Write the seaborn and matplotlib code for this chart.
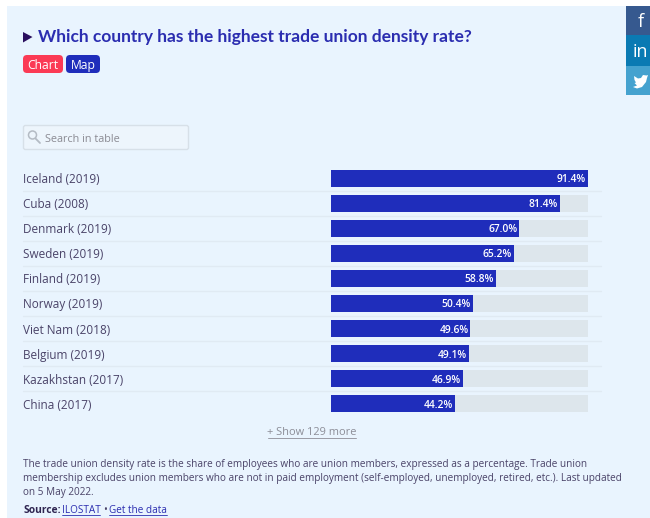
import matplotlib
matplotlib.use("Agg")
import matplotlib.pyplot as plt
from matplotlib.patches import FancyBboxPatch, Rectangle, Polygon, Circle
import pandas as pd
import seaborn as sns

countries = ["Iceland (2019)", "Cuba (2008)", "Denmark (2019)", "Sweden (2019)", "Finland (2019)",
             "Norway (2019)", "Viet Nam (2018)", "Belgium (2019)", "Kazakhstan (2017)", "China (2017)"]
density = [91.4, 81.4, 67.0, 65.2, 58.8, 50.4, 49.6, 49.1, 46.9, 44.2]

PANEL = "#E9F4FE"
BLUE = "#1F2DBB"
TRACK = "#DDE6EC"
LABEL = "#4A4368"
W, H = 650, 518

sns.set_theme(style="white")
plt.rcParams["font.family"] = ["Open Sans", "DejaVu Sans"]

fig = plt.figure(figsize=(W / 100, H / 100), dpi=100, facecolor="white")

# Page furniture is laid out in pixel coordinates on a full-figure layer
bg = fig.add_axes([0, 0, 1, 1])
bg.set_xlim(0, W)
bg.set_ylim(H, 0)
bg.axis("off")
bg.add_patch(Rectangle((7, 6), W - 7, H - 6, fc=PANEL, ec="none"))


def button(x, y, w, h, color, text):
    bg.add_patch(FancyBboxPatch((x + 3, y + 3), w - 6, h - 6, boxstyle="round,pad=3,rounding_size=4",
                                fc=color, ec="none"))
    bg.text(x + w / 2, y + h / 2 + 1.2, text, color="white", fontsize=8.7, ha="center", va="center")


bg.add_patch(Polygon([(23, 32), (32.5, 37), (23, 42.5)], fc="#2A0F5E", ec="none"))
bg.text(38, 36.8, "Which country has the highest trade union density rate?", color="#2B2DB0",
        fontsize=12.55, fontweight="bold", va="center", family="Lato")
button(23, 55, 40, 18, "#FB3A55", "Chart")
button(66, 55, 34, 18, BLUE, "Map")

# Search box with magnifier
bg.add_patch(FancyBboxPatch((24, 126), 164, 23, boxstyle="round,pad=0.5,rounding_size=2",
                            fc="#EDF5FC", ec="#D7E0E8", lw=1))
bg.add_patch(Circle((32.5, 135), 4, fc="none", ec="#B4BBC4", lw=1.1))
bg.plot([35.5, 40], [138.5, 143], color="#B4BBC4", lw=1.3)
bg.text(45, 139, "Search in table", color="#8B8B93", fontsize=7.8, va="center")

# Share buttons
share = [(6, 29, "#36598F"), (35, 31, "#0A7AB3"), (66, 29, "#45A2CF")]
for y, h, color in share:
    bg.add_patch(Rectangle((626, y), 24, h, fc=color, ec="none"))
bg.text(640.5, 22, "f", color="white", fontsize=13, ha="center", va="center")
bg.text(640.5, 52, "in", color="white", fontsize=13, ha="center", va="center")
bg.add_patch(Polygon([(634, 76), (638, 78.5), (641, 78), (643, 75), (646.5, 75.5), (648, 75), (647, 78),
                      (646, 82), (642, 87), (637, 88.5), (633, 87), (637, 85.5), (634.5, 83), (636, 82.5),
                      (634.5, 80)], fc="white", ec="none"))

# Row separators
for i in range(9):
    y = 190.5 + i * 25.05
    bg.plot([23, 601], [y, y], color="#E0EAF3", lw=1)

# Bars: grey track behind each value, both sharing the same country axis
frame = pd.DataFrame({"country": countries, "density": density, "track": max(density)})
ax = fig.add_axes([331 / W, 1 - 416.2 / H, 257 / W, 250.5 / H])
ax.patch.set_alpha(0)
sns.barplot(data=frame, y="country", x="track", color=TRACK, width=0.68, saturation=1, linewidth=0, ax=ax)
sns.barplot(data=frame, y="country", x="density", color=BLUE, width=0.68, saturation=1, linewidth=0, ax=ax)
ax.set_xlim(0, max(density))
ax.set_xlabel("")
ax.set_ylabel("")
ax.set_xticks([])
sns.despine(ax=ax, left=True, bottom=True)
ax.tick_params(axis="y", length=0, pad=308 * 0.72)
for tick in ax.get_yticklabels():
    tick.set_ha("left")
    tick.set_color(LABEL)
    tick.set_fontsize(8.5)

for i, value in enumerate(density):
    ax.annotate(f"{value:.1f}%", (value, i), xytext=(-1.5, 0), textcoords="offset points",
                color="white", fontsize=7.4, fontweight="semibold", ha="right", va="center_baseline")

# Footer
bg.text(312, 432.5, "+ Show 129 more", color="#8C8D97", fontsize=7.9, ha="center", va="center")
bg.plot([268, 356], [437.5, 437.5], color="#9A9BA5", lw=0.7)

note = ("The trade union density rate is the share of employees who are union members, expressed as a percentage. Trade union\n"
        "membership excludes union members who are not in paid employment (self-employed, unemployed, retired, etc.). Last updated\n"
        "on 5 May 2022.")
for i, line in enumerate(note.split("\n")):
    bg.text(23, 464 + i * 14.3, line, color=LABEL, fontsize=7.22, va="center")

bg.text(23, 510.5, "Source:", color="#2E2450", fontsize=7.4, fontweight="bold", va="center")
bg.text(62, 510.5, "ILOSTAT", color="#2B2DB0", fontsize=7.2, va="center")
bg.plot([62, 100], [515, 515], color="#2B2DB0", lw=0.6)
bg.text(103, 510.5, "•", color=LABEL, fontsize=7.2, va="center")
bg.text(109, 510.5, "Get the data", color="#2B2DB0", fontsize=7.2, va="center")
bg.plot([109, 167], [515, 515], color="#2B2DB0", lw=0.6)

fig.savefig("out.png", dpi=100, facecolor="white")
